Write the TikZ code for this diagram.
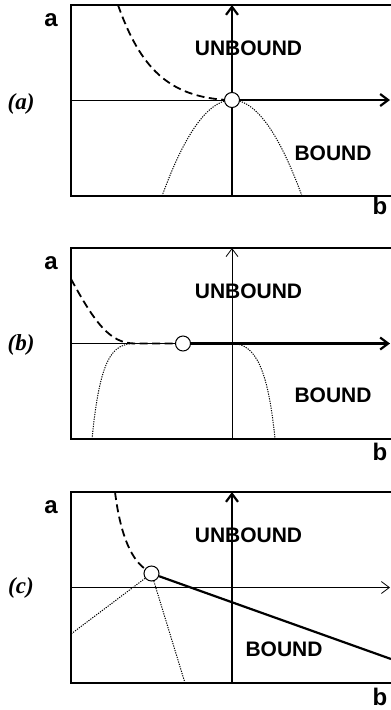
\documentclass[tikz,border=0pt]{standalone}
\usepackage{fontspec}
\setmainfont{Liberation Sans}
\newfontfamily\panelfont{Liberation Serif}
\usepackage{tikz}
\usetikzlibrary{arrows.meta}

\begin{document}
\begin{tikzpicture}[x=1pt, y=-1pt,
  frame/.style={line width=1.6pt},
  thinaxis/.style={line width=0.8pt},
  thickaxis/.style={line width=2.2pt},
  arrowtip/.style={-{Straight Barb[length=8pt,width=12pt]}},
  boundary/.style={line width=1.8pt, dash pattern=on 8pt off 4.5pt},
  branch/.style={line width=1pt, dash pattern=on 1.2pt off 1.2pt},
  point/.style={circle, draw, fill=white, line width=1pt, minimum size=15pt, inner sep=0pt},
  region/.style={inner sep=0pt, font=\fontsize{21}{21}\selectfont\bfseries},
  axislabel/.style={inner sep=0pt, font=\fontsize{24}{24}\selectfont\bfseries},
  panellabel/.style={inner sep=0pt, font=\panelfont\fontsize{23}{23}\selectfont\bfseries\itshape}]
  \useasboundingbox (0,0) rectangle (391,710);

  % Panel (a)
  \begin{scope}[shift={(0,5)}]
    \draw[frame] (391,0) -- (71,0) -- (71,191) -- (391,191);
    \coordinate (a-west) at (71,95);
    \coordinate (a-east) at (390,95);
    \coordinate (a-south) at (232,191);
    \coordinate (a-north) at (232,0);
    \draw[boundary] (118,0) .. controls (140,62) and (168,92) .. (228,95);
    \draw[branch] plot[domain=162:302, samples=60] (\x, {95+0.0196*(\x-232)^2});
    \node[point] (a-crit) at (232,95) {};
    \draw[thinaxis] (a-west) -- (a-crit);
    \draw[thickaxis, arrowtip] (a-crit) -- (a-east);
    \draw[thickaxis] (a-south) -- (a-crit);
    \draw[thickaxis, arrowtip] (a-crit) -- (a-north);
    \node[axislabel] (a-alabel) at (51,15) {a};
    \node[axislabel] (a-blabel) at (380,201) {b};
    \node[panellabel] (a-name) at (21,99) {(a)};
    \node[region] (a-unbound) at (248.5,43.5) {UNBOUND};
    \node[region] (a-bound) at (333,148.5) {BOUND};
  \end{scope}

  % Panel (b)
  \begin{scope}[shift={(0,248)}]
    \draw[frame] (391,0) -- (71,0) -- (71,191) -- (391,191);
    \coordinate (b-west) at (71,95.5);
    \coordinate (b-east) at (390,95.5);
    \coordinate (b-south) at (232,191);
    \coordinate (b-north) at (232,0);
    \draw[branch] (92,191) .. controls (100,110) and (112,95.5) .. (135,95.5);
    \draw[branch] (232,95.5) .. controls (255,95.5) and (268,120) .. (275,191);
    \draw[thinaxis] (b-west) -- (b-east);
    \draw[boundary] (71,31) .. controls (95,75) and (110,95.5) .. (135,95.5) -- (180,95.5);
    \node[point] (b-crit) at (183,95.5) {};
    \draw[thickaxis, arrowtip] (b-crit) -- (b-east);
    \draw[thinaxis, arrowtip] (b-south) -- (b-north);
    \node[axislabel] (b-alabel) at (51,15) {a};
    \node[axislabel] (b-blabel) at (380,204) {b};
    \node[panellabel] (b-name) at (21,97) {(b)};
    \node[region] (b-unbound) at (248.5,43.5) {UNBOUND};
    \node[region] (b-bound) at (333,147.5) {BOUND};
  \end{scope}

  % Panel (c)
  \begin{scope}[shift={(0,492)}]
    \draw[frame] (391,0) -- (71,0) -- (71,191) -- (391,191);
    \coordinate (c-west) at (71,95.5);
    \coordinate (c-east) at (390,95.5);
    \coordinate (c-south) at (232,191);
    \coordinate (c-north) at (232,0);
    \coordinate (c-left) at (71,142);
    \coordinate (c-foot) at (185,191);
    \coordinate (c-right) at (391,167);
    \draw[thinaxis, arrowtip] (c-west) -- (c-east);
    \draw[thickaxis, arrowtip] (c-south) -- (c-north);
    \node[point] (c-crit) at (151.5,81.5) {};
    \draw[boundary] (115,0) .. controls (120,40) and (130,66) .. (c-crit);
    \draw[branch] (c-crit) -- (c-left);
    \draw[branch] (c-crit) -- (c-foot);
    \draw[thickaxis] (c-crit) -- (c-right);
    \node[axislabel] (c-alabel) at (51,15) {a};
    \node[axislabel] (c-blabel) at (380,205) {b};
    \node[panellabel] (c-name) at (21,96) {(c)};
    \node[region] (c-unbound) at (248.5,43) {UNBOUND};
    \node[region] (c-bound) at (284,157.5) {BOUND};
  \end{scope}
\end{tikzpicture}
\end{document}
